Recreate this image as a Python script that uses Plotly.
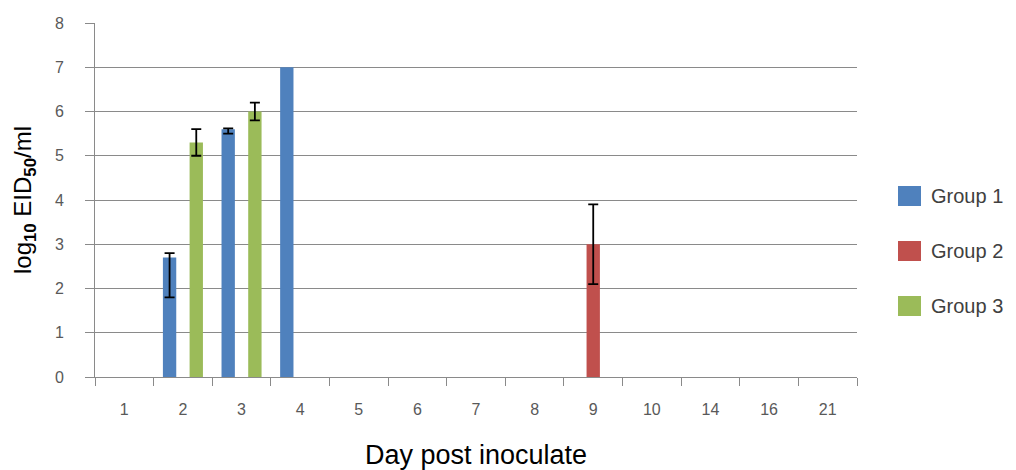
import numpy as np
import plotly.graph_objects as go

days = ["1", "2", "3", "4", "5", "6", "7", "8", "9", "10", "14", "16", "21"]
group_names = ["Group 1", "Group 2", "Group 3"]
group_colors = ["#4F81BD", "#C0504D", "#9BBB59"]

g1_values = [0, 2.7, 5.6, 7.0, 0, 0, 0, 0, 0, 0, 0, 0, 0]
g1_err_plus = [None, 0.1, 0.02, None, None, None, None, None, None, None, None, None, None]
g1_err_minus = [None, 0.9, 0.1, None, None, None, None, None, None, None, None, None, None]

g2_values = [0, 0, 0, 0, 0, 0, 0, 0, 3.0, 0, 0, 0, 0]
g2_err_plus = [None, None, None, None, None, None, None, None, 0.9, None, None, None, None]
g2_err_minus = [None, None, None, None, None, None, None, None, 0.9, None, None, None, None]

g3_values = [0, 5.3, 6.0, 0, 0, 0, 0, 0, 0, 0, 0, 0, 0]
g3_err_plus = [None, 0.3, 0.2, None, None, None, None, None, None, None, None, None, None]
g3_err_minus = [None, 0.3, 0.2, None, None, None, None, None, None, None, None, None, None]

y_ticks = [0, 1, 2, 3, 4, 5, 6, 7, 8]

FONT = "Liberation Sans, Arial, sans-serif"
GRID = "#8A8A8A"

series = [
    (g1_values, g1_err_plus, g1_err_minus),
    (g2_values, g2_err_plus, g2_err_minus),
    (g3_values, g3_err_plus, g3_err_minus),
]


def as_arr(lst):
    # missing entries become NaN so no error bar is drawn there
    return np.array([np.nan if v is None else v for v in lst], dtype=float)


fig = go.Figure()
for name, color, (vals, ep, em) in zip(group_names, group_colors, series):
    fig.add_trace(go.Bar(
        x=days, y=vals, name=name,
        marker=dict(color=color, line=dict(width=0)),
        error_y=dict(type="data", symmetric=False, array=as_arr(ep), arrayminus=as_arr(em),
                     color="black", thickness=1.8, width=5),
        showlegend=False,
    ))

# manual legend (larger swatches like the original)
W, H = 1016, 470
L, R = 95, 857
T, B = 23, 377
pw, ph = R - L, B - T
legend_y = [196, 251, 306]
for name, color, yc in zip(group_names, group_colors, legend_y):
    fig.add_shape(type="rect", xref="paper", yref="paper",
                  x0=(898 - L) / pw, x1=(921 - L) / pw,
                  y0=(B - (yc + 10)) / ph, y1=(B - (yc - 10)) / ph,
                  fillcolor=color, line=dict(width=0))
    fig.add_annotation(xref="paper", yref="paper", x=(929 - L) / pw, y=(B - yc) / ph,
                       text=name, showarrow=False, xanchor="left", yanchor="middle",
                       font=dict(family=FONT, size=20, color="#404040"))

fig.update_layout(
    width=W, height=H,
    margin=dict(l=L, r=W - R, t=T, b=H - B, pad=0),
    paper_bgcolor="white", plot_bgcolor="white",
    barmode="group", bargap=0.317, bargroupgap=0,
    showlegend=False,
    font=dict(family=FONT, color="#595959"),
)
fig.update_xaxes(
    type="category", categoryorder="array", categoryarray=days,
    showline=True, linecolor=GRID, linewidth=1,
    showgrid=False, zeroline=False,
    ticks="outside", tickson="boundaries", ticklen=8, tickcolor=GRID, tickwidth=1,
    tickfont=dict(family=FONT, size=16, color="#595959"),
    ticklabelstandoff=18,
    title=dict(text="Day post inoculate", font=dict(family=FONT, size=27, color="black"), standoff=28),
    automargin=False,
)
fig.update_yaxes(
    range=[0, 8], tickmode="array", tickvals=y_ticks,
    showline=True, linecolor=GRID, linewidth=1,
    showgrid=True, gridcolor=GRID, gridwidth=1, zeroline=False,
    ticks="outside", ticklen=9, tickcolor=GRID, tickwidth=1,
    tickfont=dict(family=FONT, size=16, color="#595959"),
    ticklabelstandoff=18,
    title=dict(text="log<sub><b>10</b></sub> EID<sub><b>50</b></sub>/ml",
               font=dict(family=FONT, size=24, color="black"), standoff=16),
    automargin=False,
)

fig.write_html("out.html", config={"displayModeBar": False},
               post_script="document.body.style.margin='0';")
